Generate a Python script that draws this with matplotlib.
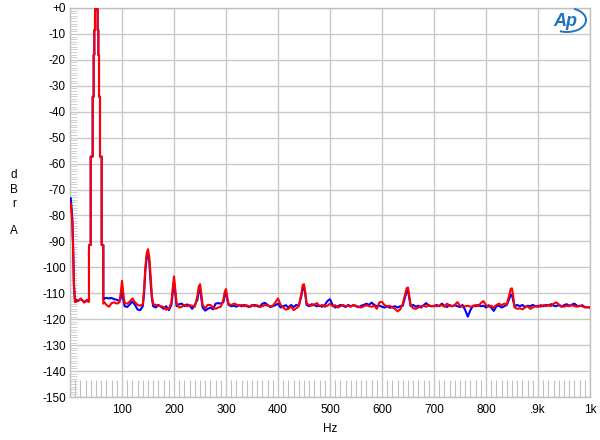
import matplotlib
matplotlib.use("Agg")
import matplotlib.pyplot as plt
from matplotlib.patches import Arc
import numpy as np

plt.rcParams['font.family'] = ['Liberation Sans', 'DejaVu Sans']

# ---- data ----
# low-frequency end, below the 50 Hz fundamental
low_freq = [1.5, 3, 4.5, 6, 7.5, 9.5, 12, 15, 18, 21, 24, 27, 30, 33, 35]
low_blue = [-73.4, -77, -81, -92, -106, -112.6, -112.5, -113.0, -112.6, -112.2,
            -112.8, -113.3, -113.0, -112.5, -113.0]
low_red = [-75.3, -79, -83, -93, -107, -113.4, -113.3, -113.0, -112.5, -112.0,
           -112.8, -113.6, -113.3, -112.6, -113.3]

# 50 Hz fundamental, drawn as FFT bin steps (shared by both channels)
fund_edges = [36.5, 39.8, 43.6, 45.5, 46.8, 48.1, 48.7, 52.6, 53.2, 54.5, 55.8,
              57.7, 60.9, 64.1]
fund_levels = [-91.4, -57.3, -34.2, -18.1, -8.5, -0.8, 0.0, -0.8, -8.5, -18.1,
               -34.2, -57.3, -91.4]

# noise floor and harmonics above the fundamental
hi_freq = [66, 70, 75, 80, 85, 90, 95, 97.5, 100, 102.5, 105, 110, 115, 120, 125,
           130, 135, 140, 142.5, 145, 147.5, 150, 152.5, 155, 157.5, 160, 165, 170,
           175, 180, 185, 190, 195, 197.5, 200, 202.5, 205, 210, 215, 220, 225, 230,
           235, 240, 245, 247.5, 250, 252.5, 255, 260, 265, 270, 275, 280, 285, 290,
           295, 297.5, 300, 302.5, 305, 310, 315, 320, 325, 330, 335, 340, 345, 350,
           355, 360, 365, 370, 375, 380, 385, 390, 395, 400, 405, 410, 415, 420,
           425, 430, 435, 440, 445, 447.5, 450, 452.5, 455, 460, 465, 470, 475, 480,
           485, 490, 495, 500, 505, 510, 515, 520, 525, 530, 535, 540, 545, 550,
           555, 560, 565, 570, 575, 580, 585, 590, 595, 600, 605, 610, 615, 620,
           625, 630, 635, 640, 645, 647.5, 650, 652.5, 655, 660, 665, 670, 675, 680,
           685, 690, 695, 700, 705, 710, 715, 720, 725, 730, 735, 740, 745, 750,
           755, 760, 765, 770, 775, 780, 785, 790, 795, 800, 805, 810, 815, 820,
           825, 830, 835, 840, 845, 847.5, 850, 852.5, 855, 860, 865, 870, 875, 880,
           885, 890, 895, 900, 905, 910, 915, 920, 925, 930, 935, 940, 945, 950,
           955, 960, 965, 970, 975, 980, 985, 990, 995, 1000]
hi_blue = [-112.0, -111.8, -112.0, -111.8, -112.3, -112.5, -113.0, -112.0, -108.3, -112.5,
           -115.0, -115.3, -114.3, -113.2, -114.5, -116.3, -116.5, -115.0, -110.0, -101.0,
           -96.0, -95.0, -98.0, -106.0, -112.0, -115.0, -115.5, -114.5, -115.2, -116.0,
           -115.0, -116.5, -114.5, -110.0, -105.5, -110.0, -115.0, -114.2, -114.0, -115.0,
           -114.3, -114.8, -116.0, -114.5, -112.5, -109.0, -108.3, -112.0, -115.5, -116.7,
           -116.0, -115.5, -116.2, -114.0, -113.8, -114.0, -113.5, -110.5, -110.0, -112.5,
           -114.5, -115.0, -114.8, -115.2, -114.6, -115.0, -114.5, -115.0, -115.3, -114.8,
           -114.5, -115.0, -115.2, -114.0, -113.7, -114.5, -115.3, -115.0, -114.6, -114.0,
           -115.5, -115.0, -114.6, -115.5, -114.5, -115.3, -114.5, -114.8, -111.0, -107.8,
           -107.5, -110.5, -114.5, -115.0, -114.2, -114.6, -115.0, -114.8, -115.2, -114.5,
           -113.0, -112.3, -114.5, -115.5, -115.0, -114.5, -114.8, -115.3, -114.5, -115.0,
           -114.6, -115.0, -115.4, -114.8, -114.5, -114.0, -114.5, -113.6, -114.5, -115.0,
           -114.8, -115.2, -115.5, -115.0, -115.6, -115.3, -115.0, -115.5, -115.0, -114.8,
           -111.0, -109.2, -109.0, -112.0, -115.0, -114.5, -115.2, -114.8, -115.5, -114.6,
           -113.8, -114.8, -115.0, -115.0, -114.5, -115.0, -114.0, -114.8, -115.3, -114.5,
           -115.0, -114.6, -115.0, -115.3, -114.5, -116.5, -119.0, -116.5, -114.8, -115.0,
           -114.5, -115.0, -114.8, -115.5, -114.6, -115.5, -116.8, -115.0, -114.8, -115.5,
           -115.0, -114.5, -112.0, -110.5, -110.7, -113.0, -115.0, -114.5, -115.0, -114.5,
           -115.3, -114.8, -115.0, -114.5, -115.0, -115.2, -114.6, -115.0, -114.5, -114.8,
           -114.2, -114.8, -115.0, -114.5, -115.2, -114.6, -114.2, -114.8, -114.4, -114.0,
           -114.8, -115.0, -114.6, -115.3, -115.4, -115.5]
hi_red = [-113.5, -114.5, -115.2, -113.8, -113.5, -114.0, -113.5, -110.0, -105.2, -110.0,
          -113.8, -114.0, -113.2, -112.0, -113.5, -114.5, -114.8, -114.2, -108.0, -100.0,
          -94.5, -93.0, -96.0, -103.0, -111.0, -114.2, -114.5, -114.8, -115.0, -115.3,
          -116.3, -116.0, -113.5, -108.0, -103.5, -108.5, -114.0, -115.5, -115.2, -114.5,
          -115.0, -114.6, -114.8, -115.2, -111.0, -107.5, -106.5, -110.0, -114.5, -115.8,
          -114.5, -114.5, -115.5, -116.0, -115.5, -115.2, -112.5, -109.5, -108.4, -111.5,
          -114.2, -114.5, -114.0, -114.3, -114.8, -114.5, -115.0, -114.6, -115.2, -114.5,
          -115.0, -114.6, -115.3, -115.0, -114.5, -114.8, -115.0, -114.8, -113.5, -112.0,
          -114.5, -115.5, -116.3, -116.0, -115.0, -116.5, -115.8, -115.0, -110.0, -106.8,
          -106.5, -109.5, -114.0, -114.5, -114.8, -114.3, -113.8, -115.0, -114.5, -115.2,
          -114.8, -114.0, -115.0, -114.6, -115.5, -115.0, -114.5, -115.0, -114.8, -115.2,
          -114.5, -114.8, -115.2, -115.5, -115.0, -114.6, -115.0, -115.2, -114.8, -116.0,
          -113.5, -113.3, -114.6, -115.0, -114.8, -115.5, -116.0, -117.0, -116.2, -114.0,
          -110.0, -108.0, -107.8, -111.0, -114.5, -115.8, -116.0, -115.5, -115.0, -114.8,
          -115.2, -114.5, -115.0, -114.8, -115.0, -114.8, -114.6, -115.2, -114.0, -114.8,
          -115.0, -114.5, -113.4, -114.8, -115.2, -115.0, -114.8, -115.2, -115.0, -114.5,
          -115.0, -113.8, -113.0, -114.6, -115.2, -114.8, -115.5, -114.5, -114.0, -114.6,
          -114.0, -114.3, -110.5, -108.3, -108.1, -111.5, -115.5, -116.0, -115.8, -116.2,
          -115.5, -115.0, -116.0, -115.5, -115.0, -114.8, -115.2, -114.6, -115.0, -114.5,
          -115.0, -114.0, -113.5, -114.3, -115.0, -115.2, -114.8, -115.0, -114.6, -115.0,
          -115.2, -114.8, -115.0, -115.5, -115.3, -115.5]

y_ticks = list(range(0, -151, -10))
y_labels = ['+0'] + [str(v) for v in y_ticks[1:]]
x_ticks = [100, 200, 300, 400, 500, 600, 700, 800, 900, 1000]
x_labels = ['100', '200', '300', '400', '500', '600', '700', '800', '.9k', '1k']


def build_trace(low_f, low_v, hi_f, hi_v):
    fx, fy = [], []
    fx.append(fund_edges[0]); fy.append(low_v[-1])
    for i, lvl in enumerate(fund_levels):
        fx += [fund_edges[i], fund_edges[i + 1]]
        fy += [lvl, lvl]
    fx.append(fund_edges[-1]); fy.append(hi_v[0] - 0.5)
    x = list(low_f) + fx + list(hi_f)
    y = list(low_v) + fy + list(hi_v)
    return np.array(x), np.array(y)


bx, by = build_trace(low_freq, low_blue, hi_freq, hi_blue)
rx, ry = build_trace(low_freq, low_red, hi_freq, hi_red)

fig = plt.figure(figsize=(6.0, 4.4), dpi=100)
ax = fig.add_axes([70 / 600, 43 / 440, 520 / 600, 389 / 440])

ax.plot(bx, by, color='#0000ff', lw=1.5, zorder=3)
ax.plot(rx, ry, color='#ff0000', lw=1.5, zorder=4)

ax.set_xlim(0, 1000)
ax.set_ylim(-150, 0)
ax.set_yticks(y_ticks)
ax.set_yticklabels(y_labels)
ax.set_xticks(x_ticks)
ax.set_xticklabels(x_labels)
ax.set_xticks(list(range(0, 1001, 10)), minor=True)
ax.set_yticks(list(range(-150, 1, 1)), minor=True)

ax.grid(True, which='major', color='#c8c8c8', lw=1.0, zorder=0)
ax.tick_params(axis='y', which='major', length=0, labelsize=8.5, colors='black', pad=3)
ax.tick_params(axis='x', which='major', length=0, labelsize=8.5, colors='black', pad=5)
ax.tick_params(axis='x', which='minor', direction='in', length=12, width=0.8, color='#c0c0c0')
ax.tick_params(axis='y', which='minor', direction='in', length=5, width=0.6, color='#c8c8c8')
for s in ax.spines.values():
    s.set_color('#c0c0c0')
    s.set_linewidth(1.0)

ax.set_xlabel('Hz', fontsize=8.5, labelpad=5)
fig.text(14 / 600, 1 - 175 / 440, 'd', fontsize=8.5, ha='center', va='center')
fig.text(14 / 600, 1 - 190 / 440, 'B', fontsize=8.5, ha='center', va='center')
fig.text(14 / 600, 1 - 204 / 440, 'r', fontsize=8.5, ha='center', va='center')
fig.text(14 / 600, 1 - 231 / 440, 'A', fontsize=8.5, ha='center', va='center')

# Ap logo
fig.text(565 / 600, 1 - 21 / 440, 'Ap', fontsize=13, fontstyle='italic', fontweight='bold',
         color='#1f74c0', ha='center', va='center')
arc = Arc((567 / 600, 1 - 20 / 440), 38 / 600, 24 / 440, angle=0, theta1=-115, theta2=65,
          transform=fig.transFigure, color='#1f74c0', lw=1.4)
fig.add_artist(arc)

fig.savefig('out.png', dpi=100)
